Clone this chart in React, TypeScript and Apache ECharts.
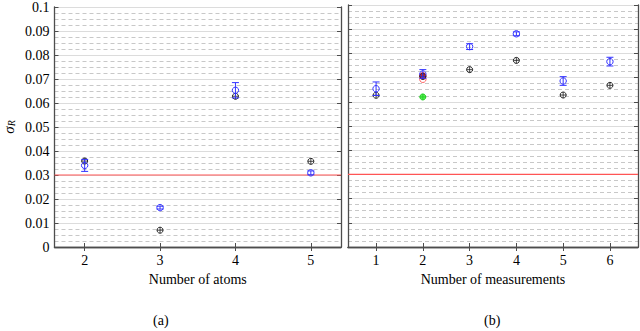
import React, { useEffect, useRef } from "react";
import * as echarts from "echarts";

// ---- data ----
const atomsX = [2, 3, 4, 5];
const atomsBlack = [0.0358, 0.007, 0.0628, 0.0357];
const atomsBlue = [0.034, 0.0164, 0.0653, 0.0309];
const atomsBlueErr = [0.0025, 0.0006, 0.0032, 0.0008];

const measX = [1, 2, 3, 4, 5, 6];
const measBlack = [0.0627, 0.0705, 0.0733, 0.0771, 0.0628, 0.0668];
const measBlue = [0.0654, 0.0715, 0.0828, 0.0881, 0.0686, 0.0766];
const measBlueErr = [0.0028, 0.0018, 0.0012, 0.0008, 0.0018, 0.0018];
const redFilled = [[2, 0.0707]];
const redOpen = [[2, 0.0693]];
const greenPts = [[2, 0.062]];

const threshold = 0.03;
const yTicks = [0, 0.01, 0.02, 0.03, 0.04, 0.05, 0.06, 0.07, 0.08, 0.09, 0.1];

const FONT = "'Liberation Serif', 'Times New Roman', serif";
const FRAME = "#4d4d4d";
const BLUE = "#3333ff";

function App() {
  const ref = useRef<HTMLDivElement>(null);
  useEffect(() => {
    if (!ref.current) return;
    const chart = echarts.init(ref.current, undefined, { renderer: "svg" });

    const grids = [
      { left: 51, top: 5, width: 290, height: 242 },
      { left: 348, top: 5, width: 290, height: 242 },
    ];
    const xRanges = [
      { min: 1.6, max: 5.4, ticks: atomsX, name: "Number of atoms" },
      { min: 0.4, max: 6.6, ticks: measX, name: "Number of measurements" },
    ];

    const xAxis: any[] = [];
    const yAxis: any[] = [];
    xRanges.forEach((r, i) => {
      xAxis.push({
        type: "value",
        gridIndex: i,
        min: r.min,
        max: r.max,
        position: "bottom",
        name: r.name,
        nameLocation: "middle",
        nameGap: 25,
        nameTextStyle: { fontFamily: FONT, fontSize: 14, color: "#000" },
        axisLine: { show: true, lineStyle: { color: FRAME, width: 1.3 } },
        axisTick: { show: true, inside: true, length: 4, customValues: r.ticks, lineStyle: { color: FRAME } },
        axisLabel: { show: true, customValues: r.ticks, fontFamily: FONT, fontSize: 14, color: "#000", margin: 6 },
        splitLine: { show: false },
      });
      xAxis.push({
        type: "value",
        gridIndex: i,
        min: r.min,
        max: r.max,
        position: "top",
        axisLine: { show: true, lineStyle: { color: FRAME, width: 1.3 } },
        axisTick: { show: true, inside: true, length: 4, customValues: r.ticks, lineStyle: { color: FRAME } },
        axisLabel: { show: false },
        splitLine: { show: false },
      });
      yAxis.push({
        type: "value",
        gridIndex: i,
        min: 0,
        max: 0.1,
        interval: 0.01,
        position: "left",
        name: i === 0 ? "{s|σ}{r|R}" : "",
        nameLocation: "middle",
        nameGap: 38,
        nameRotate: 90,
        nameTextStyle: {
          color: "#000",
          rich: {
            s: { fontFamily: FONT, fontSize: 15, fontStyle: "italic", color: "#000" },
            r: { fontFamily: FONT, fontSize: 10, fontStyle: "italic", color: "#000", verticalAlign: "bottom", padding: [6, 0, 0, 0] },
          },
        },
        axisLine: { show: true, lineStyle: { color: FRAME, width: 1.3 } },
        axisTick: { show: true, inside: true, length: 4, lineStyle: { color: FRAME } },
        minorTick: { show: false, splitNumber: 4 },
        axisLabel: {
          show: i === 0,
          fontFamily: FONT,
          fontSize: 14,
          color: "#000",
          margin: 5,
          formatter: (v: number) => {
            const idx = yTicks.findIndex((t) => Math.abs(t - v) < 1e-9);
            return idx >= 0 ? String(yTicks[idx]) : "";
          },
        },
        splitLine: { show: true, lineStyle: { color: "#dcdcdc", width: 1 } },
        minorSplitLine: { show: true, lineStyle: { color: "#c8c8c8", width: 1, type: [4, 3] } },
      });
      yAxis.push({
        type: "value",
        gridIndex: i,
        min: 0,
        max: 0.1,
        interval: 0.01,
        position: "right",
        axisLine: { show: true, lineStyle: { color: FRAME, width: 1.3 } },
        axisTick: { show: true, inside: true, length: 4, lineStyle: { color: FRAME } },
        axisLabel: { show: false },
        splitLine: { show: false },
      });
    });

    const plusMarker = (color: string, fill: string) => (params: any, api: any) => {
      const p = api.coord([api.value(0), api.value(1)]);
      const r = 3;
      return {
        type: "group",
        children: [
          { type: "circle", shape: { cx: p[0], cy: p[1], r }, style: { fill, stroke: color, lineWidth: 1 } },
          { type: "line", shape: { x1: p[0] - r, y1: p[1], x2: p[0] + r, y2: p[1] }, style: { stroke: color, lineWidth: 0.8 } },
          { type: "line", shape: { x1: p[0], y1: p[1] - r, x2: p[0], y2: p[1] + r }, style: { stroke: color, lineWidth: 0.8 } },
        ],
      };
    };

    const errMarker = (color: string) => (params: any, api: any) => {
      const x = api.value(0);
      const y = api.value(1);
      const e = api.value(2);
      const c = api.coord([x, y]);
      const t = api.coord([x, y + e]);
      const b = api.coord([x, y - e]);
      const w = 3.5;
      return {
        type: "group",
        children: [
          { type: "line", shape: { x1: c[0], y1: t[1], x2: c[0], y2: b[1] }, style: { stroke: color, lineWidth: 1 } },
          { type: "line", shape: { x1: c[0] - w, y1: t[1], x2: c[0] + w, y2: t[1] }, style: { stroke: color, lineWidth: 1 } },
          { type: "line", shape: { x1: c[0] - w, y1: b[1], x2: c[0] + w, y2: b[1] }, style: { stroke: color, lineWidth: 1 } },
          { type: "circle", shape: { cx: c[0], cy: c[1], r: 3.2 }, style: { fill: "none", stroke: color, lineWidth: 1 } },
        ],
      };
    };

    const circleMarker = (color: string, fill: string) => (params: any, api: any) => {
      const p = api.coord([api.value(0), api.value(1)]);
      return { type: "circle", shape: { cx: p[0], cy: p[1], r: 3.2 }, style: { fill, stroke: color, lineWidth: 1 } };
    };

    const thresholdLine = (xi: number, yi: number, r: { min: number; max: number }) => ({
      type: "line",
      xAxisIndex: xi,
      yAxisIndex: yi,
      data: [
        [r.min, threshold],
        [r.max, threshold],
      ],
      showSymbol: false,
      symbol: "none",
      silent: true,
      lineStyle: { color: "#ff5555", width: 1.2 },
      z: 2,
    });

    const series: any[] = [
      thresholdLine(0, 0, xRanges[0]),
      thresholdLine(2, 2, xRanges[1]),
      {
        type: "custom",
        xAxisIndex: 0,
        yAxisIndex: 0,
        data: atomsX.map((x, i) => [x, atomsBlack[i]]),
        renderItem: plusMarker("#222", "rgba(255,255,255,0)"),
        z: 3,
      },
      {
        type: "custom",
        xAxisIndex: 0,
        yAxisIndex: 0,
        data: atomsX.map((x, i) => [x, atomsBlue[i], atomsBlueErr[i]]),
        renderItem: errMarker(BLUE),
        z: 4,
      },
      {
        type: "custom",
        xAxisIndex: 2,
        yAxisIndex: 2,
        data: greenPts,
        renderItem: plusMarker("#22cc22", "#55ee55"),
        z: 3,
      },
      {
        type: "custom",
        xAxisIndex: 2,
        yAxisIndex: 2,
        data: redOpen,
        renderItem: circleMarker("#ff6060", "none"),
        z: 3,
      },
      {
        type: "custom",
        xAxisIndex: 2,
        yAxisIndex: 2,
        data: redFilled,
        renderItem: circleMarker("#dd0000", "#e02020"),
        z: 4,
      },
      {
        type: "custom",
        xAxisIndex: 2,
        yAxisIndex: 2,
        data: measX.map((x, i) => [x, measBlack[i]]),
        renderItem: plusMarker("#222", "rgba(255,255,255,0)"),
        z: 5,
      },
      {
        type: "custom",
        xAxisIndex: 2,
        yAxisIndex: 2,
        data: measX.map((x, i) => [x, measBlue[i], measBlueErr[i]]),
        renderItem: errMarker(BLUE),
        z: 6,
      },
    ];

    chart.setOption({
      animation: false,
      grid: grids,
      xAxis,
      yAxis,
      series,
      graphic: [
        { type: "text", left: 153, top: 313, style: { text: "(a)", font: `14px ${FONT}`, fill: "#000" } },
        { type: "text", left: 484, top: 313, style: { text: "(b)", font: `14px ${FONT}`, fill: "#000" } },
      ],
    });
    return () => chart.dispose();
  }, []);
  return <div ref={ref} style={{ position: "fixed", left: 0, top: 0, width: 640, height: 331, background: "#fff" }} />;
}

export default App;
